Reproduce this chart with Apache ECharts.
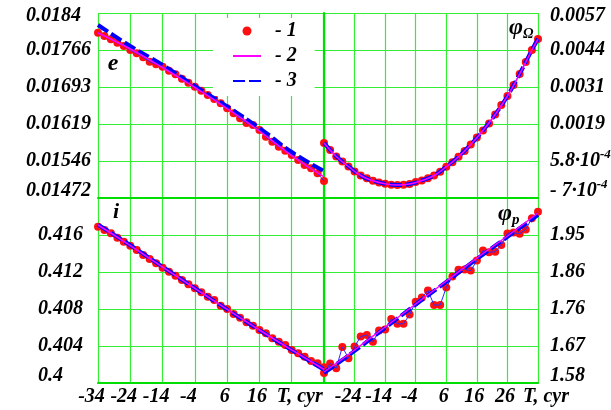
<!DOCTYPE html>
<html>
<head>
<meta charset="utf-8">
<script src="https://cdn.jsdelivr.net/npm/echarts@6/dist/echarts.min.js"></script>
<style>
  html, body { margin: 0; padding: 0; background: #fff; }
  #chart { width: 611px; height: 410px; }
</style>
</head>
<body>
<div id="chart"></div>
<script>
// time of the points, cyr
var dotT = [-34, -32, -30, -28, -26, -24, -22, -20, -18, -16, -14, -12, -10, -8, -6, -4, -2, 0,
            2, 4, 6, 8, 10, 12, 14, 16, 18, 20, 22, 24, 26, 28, 30, 32, 34, 36];
var lineT = [-34, -24, -14, -4, 6, 16, 26, 36];
var omegaLineT = [-34, -30, -26, -22, -18, -14, -10, -6, -2, 2, 6, 10, 14, 18, 22, 26, 30, 34, 36];

// e
var eDots = [0.018008, 0.017943, 0.017877, 0.017809, 0.017744, 0.017664, 0.017598, 0.017519, 0.017431,
             0.01738, 0.017332, 0.017252, 0.017181, 0.017093, 0.017014, 0.016934, 0.016854, 0.016769,
             0.016689, 0.016604, 0.016503, 0.016405, 0.016305, 0.016212, 0.016172, 0.016073, 0.015939,
             0.01584, 0.01574, 0.015661, 0.015575, 0.015476, 0.015376, 0.015311, 0.015211, 0.01506];
var eLine2 = [0.018002, 0.017684, 0.017316, 0.016918, 0.0165, 0.016053, 0.015565, 0.015138];
var eLine3 = [0.018161, 0.017744, 0.017366, 0.016948, 0.01654, 0.016112, 0.015635, 0.015257];

// phi Omega
var omegaDots = [0.0012, 0.00096, 0.000736, 0.000563, 0.00039, 0.000217, 0.000078, -0.000019, -0.000105,
                 -0.000164, -0.000209, -0.000243, -0.00025, -0.000243, -0.000216, -0.000147, -0.000095, -0.000019,
                 0.000078, 0.00021, 0.000383, 0.000535, 0.000729, 0.000926, 0.001151, 0.001393, 0.001635,
                 0.001877, 0.002189, 0.002517, 0.002829, 0.003209, 0.00359, 0.004005, 0.00442, 0.0048];
var omegaLine2 = [0.0012, 0.000736, 0.00039, 0.000078, -0.000105, -0.000209, -0.00025, -0.000216, -0.000095,
                  0.000078, 0.000383, 0.000729, 0.001151, 0.001635, 0.002189, 0.002829, 0.00359, 0.00442, 0.0048];
var omegaLine3 = [0.00121, 0.000745, 0.000395, 0.00008, -0.000103, -0.000207, -0.000248, -0.000214, -0.000093,
                  0.00008, 0.000385, 0.000731, 0.001153, 0.001637, 0.002191, 0.002831, 0.003592, 0.004422, 0.004805];

// i
var iDots = [0.4169, 0.41654, 0.41618, 0.41571, 0.41528, 0.41484, 0.41438, 0.41384, 0.41341,
             0.41294, 0.41247, 0.41203, 0.4116, 0.41114, 0.41067, 0.41024, 0.40981, 0.40933,
             0.40897, 0.40836, 0.408, 0.40746, 0.40706, 0.40656, 0.40619, 0.40573, 0.40537,
             0.40483, 0.40447, 0.40411, 0.40357, 0.40321, 0.40284, 0.40238, 0.40213, 0.4017];
var iLine2 = [0.41708, 0.41486, 0.41254, 0.41024, 0.40795, 0.40573, 0.40357, 0.40146];
var iLine3 = [0.41712, 0.41489, 0.41256, 0.41025, 0.40795, 0.40572, 0.40355, 0.40143];

// phi p
var pDots = [1.605, 1.629, 1.617, 1.67, 1.642, 1.671, 1.696, 1.7, 1.683,
             1.711, 1.714, 1.74, 1.728, 1.728, 1.751, 1.783, 1.794, 1.811,
             1.775, 1.775, 1.819, 1.846, 1.863, 1.864, 1.861, 1.886, 1.911,
             1.907, 1.908, 1.925, 1.954, 1.956, 1.953, 1.964, 1.992, 2.008];
var pLine2 = [1.6075, 1.6625, 1.72, 1.7775, 1.835, 1.8925, 1.9475, 2.005];
var pLine3 = [1.605, 1.66, 1.718, 1.776, 1.833, 1.89, 1.945, 2.0];

// tick labels
var xTicksLeft = ['-34', '-24', '-14', '-4', '6', '16', 'T, cyr', ''];
var xTicksRight = ['', '-24', '-14', '-4', '6', '16', '26', 'T, cyr'];
var eTicks = ['0.01472', '0.01546', '0.01619', '0.01693', '0.01766', '0.0184'];
var omegaTicks = ['- 7·10^-4', '5.8·10^-4', '0.0019', '0.0031', '0.0044', '0.0057'];
var iTicks = ['0.4', '0.404', '0.408', '0.412', '0.416', ''];
var pTicks = ['1.58', '1.67', '1.76', '1.86', '1.95', ''];

var FONT = '"Liberation Serif", "Times New Roman", serif';
var GRID = '#33ee33';
var AXIS = '#00dd00';

function txt(extra) {
  var s = { fontFamily: FONT, fontWeight: 'bold', fontStyle: 'italic', fontSize: 20, color: '#000' };
  for (var k in extra) s[k] = extra[k];
  return s;
}

var yRich = {
  n: txt({}),
  lo: txt({ padding: [0, 0, 15, 0] }),
  hi: txt({ padding: [6, 0, 0, 0] }),
  sn: txt({ fontSize: 13, padding: [0, 0, 12, 0] }),
  slo: txt({ fontSize: 13, padding: [0, 0, 27, 0] })
};
var xRich = {
  m: txt({ padding: [0, 13, 0, 0] }),
  p: txt({ padding: [0, 5, 0, 0] }),
  t: txt({ padding: [0, 0, 0, 16] })
};

function yFormatter(ticks) {
  return function (v) {
    var k = Math.round(v);
    var s = ticks[k];
    if (!s) return '';
    var st = k === 0 ? 'lo' : (k === ticks.length - 1 ? 'hi' : 'n');
    var parts = s.split('^');
    var out = '{' + st + '|' + parts[0] + '}';
    if (parts[1]) out += '{s' + (st === 'lo' ? 'lo' : 'n') + '|' + parts[1] + '}';
    return out;
  };
}
function xFormatter(ticks) {
  return function (v) {
    var s = ticks[Math.round(v)];
    if (!s) return '';
    if (s.charAt(0) === 'T') return '{t|' + s + '}';
    if (s.charAt(0) === '-') return '{m|' + s + '}';
    return '{p|' + s + '}';
  };
}

function pairs(xs, ys) {
  return xs.map(function (x, k) { return [x, ys[k]]; });
}

var panels = [
  { left: 98, top: 13, width: 226, yMin: 0.01472, yMax: 0.0184, ticks: eTicks, side: 'left', margin: 72,
    xTicks: null, dots: eDots, l2x: lineT, l2: eLine2, l3x: lineT, l3: eLine3 },
  { left: 324, top: 13, width: 214, yMin: -0.0007, yMax: 0.0057, ticks: omegaTicks, side: 'right', margin: 12,
    xTicks: null, dots: omegaDots, l2x: omegaLineT, l2: omegaLine2, l3x: omegaLineT, l3: omegaLine3 },
  { left: 98, top: 198, width: 226, yMin: 0.4, yMax: 0.42, ticks: iTicks, side: 'left', margin: 60,
    xTicks: xTicksLeft, dots: iDots, l2x: lineT, l2: iLine2, l3x: lineT, l3: iLine3 },
  { left: 324, top: 198, width: 214, yMin: 1.58, yMax: 2.0425, ticks: pTicks, side: 'right', margin: 12,
    xTicks: xTicksRight, dots: pDots, l2x: lineT, l2: pLine2, l3x: lineT, l3: pLine3 }
];

var grids = [], xAxes = [], yAxes = [], series = [];
panels.forEach(function (p, g) {
  grids.push({ left: p.left, top: p.top, width: p.width, height: 185, outerBoundsMode: 'none', containLabel: false });
  // label axes: equal divisions, carry grid lines and tick labels
  xAxes.push({
    type: 'value', gridIndex: g, min: 0, max: 7, interval: 1, position: 'bottom',
    axisLine: { show: false }, axisTick: { show: false },
    splitLine: { show: true, lineStyle: { color: GRID, width: 1.2 } },
    axisLabel: { show: !!p.xTicks, formatter: p.xTicks ? xFormatter(p.xTicks) : '', margin: 4,
                 showMinLabel: true, showMaxLabel: true, rich: xRich }
  });
  yAxes.push({
    type: 'value', gridIndex: g, min: 0, max: 5, interval: 1, position: p.side,
    axisLine: { show: false }, axisTick: { show: false },
    splitLine: { show: true, lineStyle: { color: GRID, width: 1.2 } },
    axisLabel: { formatter: yFormatter(p.ticks), align: 'left', margin: p.margin,
                 showMinLabel: true, showMaxLabel: true, rich: yRich }
  });
  // data axes
  xAxes.push({
    type: 'value', gridIndex: g, min: -34, max: 36, position: 'bottom',
    axisLine: { show: true, onZero: false, lineStyle: { color: AXIS, width: 2.2 } },
    axisTick: { show: false }, axisLabel: { show: false }, splitLine: { show: false }
  });
  yAxes.push({
    type: 'value', gridIndex: g, min: p.yMin, max: p.yMax, position: 'left',
    axisLine: { show: p.side === 'right', onZero: false, lineStyle: { color: AXIS, width: 2.2 } },
    axisTick: { show: false }, axisLabel: { show: false }, splitLine: { show: false }
  });
  var xi = 2 * g + 1;
  series.push({
    name: '- 1', type: 'scatter', xAxisIndex: xi, yAxisIndex: xi, data: pairs(dotT, p.dots),
    symbolSize: 8, itemStyle: { color: '#ff1010', opacity: 1 }, z: 2
  });
  series.push({
    name: 'link', type: 'line', xAxisIndex: xi, yAxisIndex: xi, data: pairs(dotT, p.dots),
    symbol: 'none', lineStyle: { color: '#2a2aff', width: 1 }, z: 3
  });
  series.push({
    name: '- 3', type: 'line', xAxisIndex: xi, yAxisIndex: xi, data: pairs(p.l3x, p.l3), smooth: true,
    symbol: 'none', lineStyle: { color: '#0000ff', width: 4, type: [12, 4] }, z: 4
  });
  series.push({
    name: '- 2', type: 'line', xAxisIndex: xi, yAxisIndex: xi, data: pairs(p.l2x, p.l2), smooth: true,
    symbol: 'none', lineStyle: { color: '#ff00ff', width: 1.5 }, z: 5
  });
});

var chart = echarts.init(document.getElementById('chart'));
chart.setOption({
  animation: false,
  backgroundColor: '#fff',
  grid: grids,
  xAxis: xAxes,
  yAxis: yAxes,
  legend: {
    data: [
      { name: '- 1', icon: 'circle', itemStyle: { color: '#ff1010', opacity: 1 } },
      { name: '- 2', itemStyle: { opacity: 0 } },
      { name: '- 3', itemStyle: { opacity: 0 } }
    ],
    orient: 'vertical', left: 213, top: 18,
    padding: [3, 18, 5, 19], itemGap: 5, itemWidth: 28, itemHeight: 9,
    backgroundColor: '#fff', selectedMode: false,
    textStyle: { fontFamily: FONT, fontWeight: 'bold', fontStyle: 'italic', fontSize: 20, color: '#000',
                 padding: [0, 0, 0, 9] }
  },
  graphic: [
    { type: 'text', x: 113, y: 64, z: 10,
      style: { text: 'e', font: 'bold italic 24px ' + FONT, fill: '#000', align: 'center', verticalAlign: 'middle' } },
    { type: 'text', x: 116, y: 212, z: 10,
      style: { text: 'i', font: 'bold italic 22px ' + FONT, fill: '#000', align: 'center', verticalAlign: 'middle' } },
    { type: 'text', x: 509, y: 28, z: 10,
      style: { text: '{a|φ}{b|Ω}', align: 'left', verticalAlign: 'middle',
               rich: { a: txt({ fontSize: 24 }), b: txt({ fontSize: 14, padding: [12, 0, 0, 0] }) } } },
    { type: 'text', x: 498, y: 214, z: 10,
      style: { text: '{a|φ}{b|p}', align: 'left', verticalAlign: 'middle',
               rich: { a: txt({ fontSize: 24 }), b: txt({ fontSize: 15, padding: [12, 0, 0, 0] }) } } }
  ],
  series: series
});
</script>
</body>
</html>
